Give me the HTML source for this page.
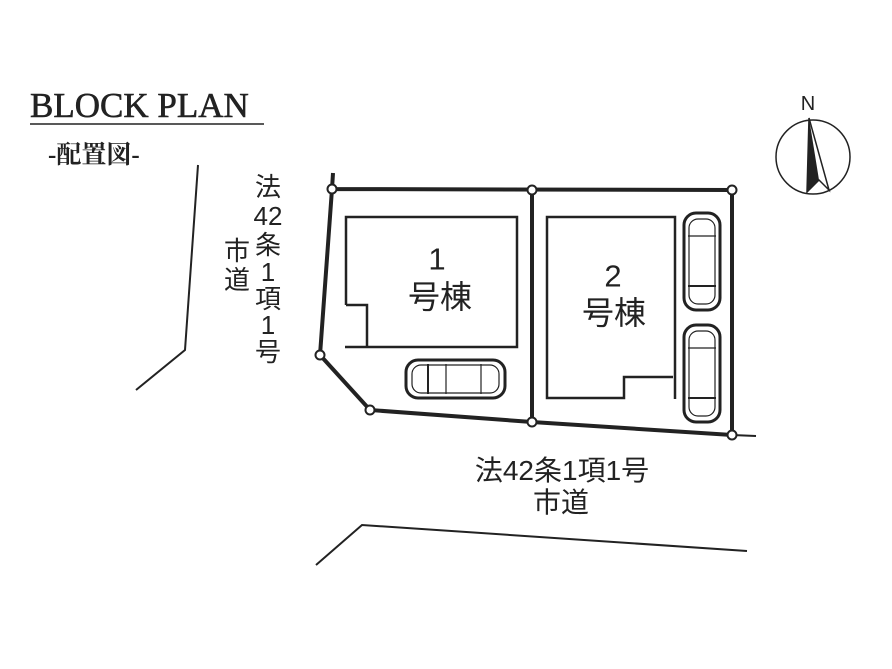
<!DOCTYPE html>
<html><head><meta charset="utf-8"><style>
html,body{margin:0;padding:0;background:#fff;}
body{width:892px;height:669px;position:relative;overflow:hidden;font-family:"Liberation Sans","Noto Sans CJK JP",sans-serif;color:#222;}
.t{position:absolute;line-height:1;white-space:nowrap;transform:translate(-50%,-50%);}
</style></head><body>
<svg width="892" height="669" style="position:absolute;left:0;top:0">
<line x1="30" y1="124" x2="264" y2="124" stroke="#222" stroke-width="1.5"/>
<polyline points="198,165 185,350 136,390" fill="none" stroke="#222" stroke-width="2"/>
<polyline points="316,565 362,525 747,551" fill="none" stroke="#222" stroke-width="2"/>
<g stroke="#222" stroke-width="4" fill="none">
<polyline points="333,173 332,189 732,190 732,435 532,422 370,410 320,355 332,189"/>
<line x1="532" y1="190" x2="532" y2="422"/>
</g>
<line x1="732" y1="435" x2="756" y2="436" stroke="#222" stroke-width="2"/>
<g stroke="#222" stroke-width="2.5" fill="none">
<polyline points="346,305 346,217 517,217 517,347 345,347"/>
<polyline points="346,305 367,305 367,347"/>
<polyline points="675,399 675,217 547,217 547,398 624,398 624,377 673,377"/>
</g>
<g fill="#fff" stroke="#222" stroke-width="2">
<circle cx="332" cy="189" r="4.5"/><circle cx="532" cy="190" r="4.5"/><circle cx="732" cy="190" r="4.5"/>
<circle cx="320" cy="355" r="4.5"/><circle cx="370" cy="410" r="4.5"/><circle cx="532" cy="422" r="4.5"/><circle cx="732" cy="435" r="4.5"/>
</g>
<g stroke="#222" fill="#fff">
<rect x="406" y="360" width="99" height="38" rx="12" stroke-width="3"/>
<rect x="412" y="365" width="87" height="28" rx="9" stroke-width="1.2"/>
<line x1="428" y1="364" x2="428" y2="394" stroke-width="2"/>
<line x1="446" y1="364" x2="446" y2="394" stroke-width="1.2"/>
<line x1="481" y1="364" x2="481" y2="394" stroke-width="1.2"/>
<rect x="684" y="213" width="36" height="97" rx="12" stroke-width="3"/>
<rect x="689" y="219" width="26" height="85" rx="9" stroke-width="1.2"/>
<line x1="688" y1="236" x2="716" y2="236" stroke-width="1.2"/>
<line x1="688" y1="286" x2="716" y2="286" stroke-width="2"/>
<rect x="684" y="325" width="36" height="97" rx="12" stroke-width="3"/>
<rect x="689" y="331" width="26" height="85" rx="9" stroke-width="1.2"/>
<line x1="688" y1="348" x2="716" y2="348" stroke-width="1.2"/>
<line x1="688" y1="398" x2="716" y2="398" stroke-width="2"/>
</g>
<circle cx="813" cy="157" r="37" fill="none" stroke="#222" stroke-width="1.5"/>
<polygon points="809,118 807,192 819,180 829,190" fill="#fff" stroke="#222" stroke-width="1.5"/>
<polygon points="809,118 807,192 819,180" fill="#222"/>
</svg>
<div style="position:absolute;left:30px;top:88px;line-height:1;font-family:'Liberation Serif',serif;font-size:35px;-webkit-text-stroke:0.6px #222;white-space:nowrap;">BLOCK PLAN</div>
<div style="position:absolute;left:48px;top:143px;line-height:1;font-family:'Liberation Serif','Noto Serif CJK SC',serif;font-size:25px;font-weight:bold;white-space:nowrap;">-配置図-</div>
<div class="t" style="left:808px;top:104px;font-size:20px;">N</div>
<div class="t" style="left:437px;top:259px;font-size:31px;">1</div>
<div class="t" style="left:440px;top:297px;font-size:32px;">号棟</div>
<div class="t" style="left:613px;top:276px;font-size:31px;">2</div>
<div class="t" style="left:614px;top:313px;font-size:32px;">号棟</div>
<div class="t" style="left:268px;top:187px;font-size:26px;">法</div>
<div class="t" style="left:268px;top:216px;font-size:26px;">42</div>
<div class="t" style="left:268px;top:245px;font-size:26px;">条</div>
<div class="t" style="left:268px;top:272px;font-size:26px;">1</div>
<div class="t" style="left:268px;top:299px;font-size:26px;">項</div>
<div class="t" style="left:268px;top:325px;font-size:26px;">1</div>
<div class="t" style="left:268px;top:352px;font-size:26px;">号</div>
<div class="t" style="left:237px;top:251px;font-size:26px;">市</div>
<div class="t" style="left:237px;top:280px;font-size:26px;">道</div>
<div class="t" style="left:562px;top:471px;font-size:28px;">法42条1項1号</div>
<div class="t" style="left:561px;top:503px;font-size:28px;">市道</div>
</body></html>
